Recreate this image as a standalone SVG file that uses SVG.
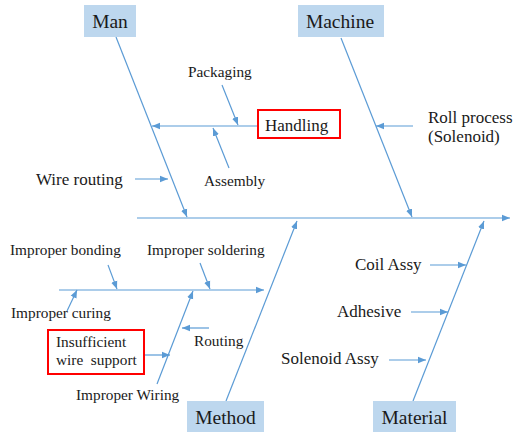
<svg xmlns="http://www.w3.org/2000/svg" width="516" height="432" viewBox="0 0 516 432">
<style>
.hdr{fill:#BDD7EE;stroke:none}
.ht{font-family:"Liberation Serif",serif;font-size:19.5px;fill:#1a1a1a;text-anchor:middle}
.t{font-family:"Liberation Serif",serif;fill:#1a1a1a}
.m{font-size:17px}
.s{font-size:15.3px}
.red{fill:#fff;stroke:#FF0000;stroke-width:2}
#connectors line{stroke:#5B9BD5;stroke-width:1.2;fill:none;marker-end:url(#ah)}
</style>
<defs>
<marker id="ah" markerUnits="userSpaceOnUse" markerWidth="9" markerHeight="8" refX="8" refY="4" orient="auto">
<path d="M0,0.8 L8,4 L0,7.2 Z" fill="#5B9BD5"/>
</marker>
</defs>
<rect width="516" height="432" fill="#fff"/>
<g id="connectors">
<line x1="137" y1="218" x2="510" y2="218"/>
<line x1="116" y1="37" x2="187" y2="217"/>
<line x1="341" y1="38" x2="412" y2="217"/>
<line x1="226" y1="401" x2="297" y2="221"/>
<line x1="413" y1="401" x2="484" y2="221"/>
<line x1="258" y1="126" x2="152" y2="126"/>
<line x1="222" y1="85" x2="238" y2="125"/>
<line x1="229" y1="168" x2="213" y2="128"/>
<line x1="135" y1="179" x2="168" y2="179"/>
<line x1="413" y1="126" x2="376" y2="126"/>
<line x1="59" y1="290" x2="264" y2="290"/>
<line x1="108" y1="265" x2="117" y2="289"/>
<line x1="200" y1="263" x2="210" y2="289"/>
<line x1="67" y1="311" x2="77" y2="290"/>
<line x1="157" y1="384" x2="193" y2="291"/>
<line x1="209" y1="328" x2="182" y2="328"/>
<line x1="144" y1="355" x2="170" y2="355"/>
<line x1="430" y1="265" x2="466" y2="265"/>
<line x1="411" y1="312" x2="448" y2="312"/>
<line x1="389" y1="360" x2="426" y2="360"/>
</g>
<g id="man"><rect class="hdr" x="84" y="5" width="52" height="32"/><text class="ht" x="110" y="28">Man</text></g>
<g id="machine"><rect class="hdr" x="298" y="5" width="86" height="32"/><text class="ht" x="340" y="28">Machine</text></g>
<g id="method"><rect class="hdr" x="187" y="401" width="77" height="31"/><text class="ht" x="225.5" y="424">Method</text></g>
<g id="material"><rect class="hdr" x="373" y="401" width="83" height="31"/><text class="ht" x="414.5" y="424">Material</text></g>
<g id="handling"><rect class="red" x="258" y="110" width="82" height="28"/><text class="t m" x="265" y="131">Handling</text></g>
<g id="packaging"><text class="t s" x="188" y="77">Packaging</text></g>
<g id="assembly"><text class="t s" x="204" y="186">Assembly</text></g>
<g id="wire-routing"><text class="t m" x="36" y="185">Wire routing</text></g>
<g id="roll-process"><text class="t m" x="428" y="123">Roll process</text><text class="t m" x="428" y="142">(Solenoid)</text></g>
<g id="improper-bonding"><text class="t s" x="10" y="255">Improper bonding</text></g>
<g id="improper-soldering"><text class="t s" x="147" y="255">Improper soldering</text></g>
<g id="improper-curing"><text class="t s" x="11" y="318">Improper curing</text></g>
<g id="insufficient"><rect class="red" x="48" y="330" width="96" height="44"/><text class="t s" x="56" y="347">Insufficient</text><text class="t s" x="56" y="365" xml:space="preserve">wire  support</text></g>
<g id="routing"><text class="t s" x="194" y="346">Routing</text></g>
<g id="improper-wiring"><text class="t s" x="76" y="400">Improper Wiring</text></g>
<g id="coil-assy"><text class="t m" x="355" y="270">Coil Assy</text></g>
<g id="adhesive"><text class="t m" x="337" y="317">Adhesive</text></g>
<g id="solenoid-assy"><text class="t m" x="281" y="364">Solenoid Assy</text></g>
</svg>
